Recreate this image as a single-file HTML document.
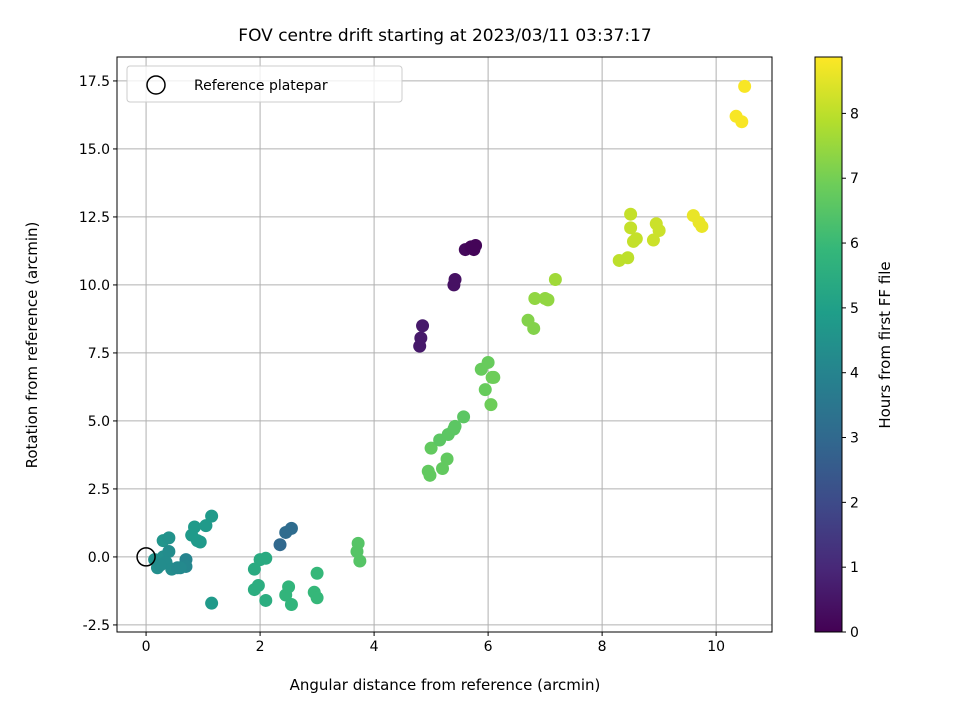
<!DOCTYPE html>
<html><head><meta charset="utf-8"><style>
body{margin:0;background:#fff;font-family:"Liberation Sans","DejaVu Sans",sans-serif;}
svg text{font-family:"DejaVu Sans","Liberation Sans",sans-serif;}
</style></head><body>
<svg id="chart" width="960" height="720" xmlns="http://www.w3.org/2000/svg"></svg>
<script>
const xs=[0.15,0.2,0.3,0.3,0.4,0.4,0.35,0.45,0.55,0.7,0.7,0.8,0.85,0.9,0.95,1.05,1.15,1.15,0.25,0.6,
2.35,2.45,2.55,
2.0,2.1,1.9,1.9,1.97,2.1,2.45,2.5,2.55,2.95,3.0,3.0,
3.7,3.72,3.75,
4.8,4.82,4.85,5.4,5.42,5.6,5.7,5.75,5.78,
4.95,4.98,5.0,5.15,5.2,5.28,5.3,5.4,5.42,5.57,5.95,5.88,6.0,6.05,6.07,6.1,
6.7,6.8,6.82,7.0,7.05,7.18,
8.3,8.45,8.5,8.5,8.55,8.6,8.9,8.95,9.0,
9.6,9.7,9.75,10.35,10.45,10.5];
const ys=[-0.1,-0.4,0.0,0.6,0.7,0.2,-0.2,-0.45,-0.4,-0.1,-0.35,0.8,1.1,0.6,0.55,1.15,1.5,-1.7,-0.3,-0.4,
0.45,0.9,1.05,
-0.1,-0.05,-0.45,-1.2,-1.05,-1.6,-1.4,-1.1,-1.75,-1.3,-0.6,-1.5,
0.2,0.5,-0.15,
7.75,8.05,8.5,10.0,10.2,11.3,11.4,11.3,11.45,
3.15,3.0,4.0,4.3,3.25,3.6,4.5,4.7,4.8,5.15,6.15,6.9,7.15,5.6,6.6,6.6,
8.7,8.4,9.5,9.5,9.45,10.2,
10.9,11.0,12.6,12.1,11.6,11.7,11.65,12.25,12.0,
12.55,12.3,12.15,16.2,16.0,17.3];
const hours=[4.5,4.4,4.4,4.6,4.5,4.3,4.3,4.3,4.2,4.0,4.1,4.8,4.8,4.8,4.8,4.8,4.8,4.8,4.3,4.2,
3.0,3.1,3.1,
5.4,5.4,5.4,5.5,5.5,5.5,5.8,5.8,5.8,5.9,5.9,5.9,
6.5,6.5,6.5,
0.6,0.6,0.6,0.4,0.4,0.2,0.1,0.1,0.1,
6.7,6.7,6.7,6.6,6.7,6.7,6.6,6.6,6.6,6.6,6.8,6.8,6.8,6.9,6.9,6.9,
7.2,7.2,7.4,7.4,7.4,7.6,
8.0,8.0,8.1,8.1,8.1,8.1,8.2,8.2,8.2,
8.6,8.6,8.6,8.8,8.8,8.8];
const xTicks=[0,2,4,6,8,10];
const yTicks=[-2.5,0,2.5,5,7.5,10,12.5,15,17.5];
const cTicks=[0,1,2,3,4,5,6,7,8];
const NS="http://www.w3.org/2000/svg";
const svg=document.getElementById('chart');
const L=117,R=772,T=57,B=632,X0=-0.51,X1=10.98,Y0=-2.76,Y1=18.38,CMAX=8.87;
const sx=v=>L+(v-X0)/(X1-X0)*(R-L), sy=v=>B-(v-Y0)/(Y1-Y0)*(B-T);
const vir=[[68,1,84],[72,40,120],[62,74,137],[49,104,142],[38,130,142],[31,158,137],[53,183,121],[109,205,89],[180,222,44],[253,231,37]];
function col(h){let t=Math.max(0,Math.min(1,h/CMAX))*9,i=Math.min(8,Math.floor(t)),f=t-i;const a=vir[i],b=vir[i+1];return 'rgb('+a.map((v,k)=>Math.round(v+(b[k]-v)*f)).join(',')+')';}
function el(tag,at,txt){const e=document.createElementNS(NS,tag);for(const k in at)e.setAttribute(k,at[k]);if(txt!=null)e.textContent=txt;svg.appendChild(e);return e;}
let e;
e=el('text',{x:445,y:41,'text-anchor':'middle','font-size':'17'},'FOV centre drift starting at 2023/03/11 03:37:17');

xTicks.forEach(v=>{const x=sx(v);
e=el('line',{x1:x,x2:x,y1:T,y2:B,stroke:'#b0b0b0','stroke-width':1});
el('line',{x1:x,x2:x,y1:B,y2:B+4,stroke:'#000'});
e=el('text',{x:x,y:B+19,'text-anchor':'middle','font-size':'14'},String(v));});
yTicks.forEach(v=>{const y=sy(v);
e=el('line',{x1:L,x2:R,y1:y,y2:y,stroke:'#b0b0b0','stroke-width':1});
el('line',{x1:L-4,x2:L,y1:y,y2:y,stroke:'#000'});
e=el('text',{x:L-7,y:y+5,'text-anchor':'end','font-size':'14'},v.toFixed(1));});
xs.forEach((v,i)=>{e=el('circle',{cx:sx(v),cy:sy(ys[i]),r:6.5,fill:col(hours[i])});});
e=el('circle',{cx:sx(0),cy:sy(0),r:9,fill:'none',stroke:'#000','stroke-width':1.5});
e=el('rect',{x:L,y:T,width:R-L,height:B-T,fill:'none',stroke:'#000','stroke-width':1});
e=el('rect',{x:127,y:66,width:275,height:36,rx:3,fill:'#fff','fill-opacity':0.8,stroke:'#ccc'});
el('circle',{cx:156,cy:85,r:9,fill:'none',stroke:'#000','stroke-width':1.5});
e=el('text',{x:194,y:90,'font-size':'14'},'Reference platepar');
e=el('text',{x:445,y:690,'text-anchor':'middle','font-size':'15'},'Angular distance from reference (arcmin)');
e=el('text',{x:37,y:345,'text-anchor':'middle','font-size':'15',transform:'rotate(-90 37 345)'},'Rotation from reference (arcmin)');
const CL=815,CW=27;
const defs=el('defs',{});const g=document.createElementNS(NS,'linearGradient');g.setAttribute('id','vg');g.setAttribute('x1','0');g.setAttribute('y1','1');g.setAttribute('x2','0');g.setAttribute('y2','0');defs.appendChild(g);
vir.forEach((c,i)=>{const s=document.createElementNS(NS,'stop');s.setAttribute('offset',(i/9));s.setAttribute('stop-color','rgb('+c.join(',')+')');g.appendChild(s);});
e=el('rect',{x:CL,y:T,width:CW,height:B-T,fill:'url(#vg)',stroke:'#000'});
cTicks.forEach(v=>{const y=B-v/CMAX*(B-T);el('line',{x1:CL+CW,x2:CL+CW+4,y1:y,y2:y,stroke:'#000'});
e=el('text',{x:CL+CW+8,y:y+5,'font-size':'14'},String(v));});
e=el('text',{x:890,y:345,'text-anchor':'middle','font-size':'15',transform:'rotate(-90 890 345)'},'Hours from first FF file');
</script>
</body></html>
